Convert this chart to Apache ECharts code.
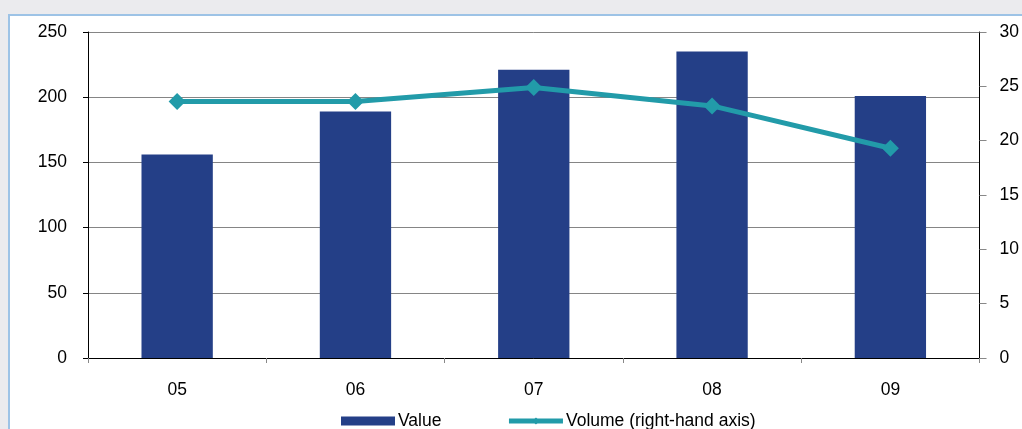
<!DOCTYPE html>
<html>
<head>
<meta charset="utf-8">
<script src="https://cdn.jsdelivr.net/npm/echarts@6/dist/echarts.min.js"></script>
<style>
  html, body { margin: 0; padding: 0; width: 1022px; height: 429px; background: #ebebee; overflow: hidden; }
  #panel { position: absolute; left: 8px; top: 14px; width: 1014px; height: 415px; background: #fff;
           border-left: 2px solid #9dc3e6; border-top: 2px solid #9dc3e6; box-sizing: border-box; }
  #chart { position: absolute; left: 0; top: 0; width: 1022px; height: 429px; }
</style>
</head>
<body>
<div id="panel"></div>
<div id="chart"></div>
<script>
// Yearly value (left axis) and volume (right axis)
const categories = ['05', '06', '07', '08', '09'];
const valueData = [156, 189, 221, 235, 201];
const volumeData = [23.6, 23.6, 24.9, 23.2, 19.3];
const leftTicks = { min: 0, max: 250, interval: 50 };
const rightTicks = { min: 0, max: 30, interval: 5 };

const font = 'Liberation Sans, Arial, sans-serif';
const fontSize = 17.5;
const teal = '#229ba9';
const chart = echarts.init(document.getElementById('chart'), null, { renderer: 'canvas' });

chart.setOption({
  backgroundColor: 'transparent',
  animation: false,
  grid: { left: 88, right: 41, top: 32, bottom: 71 },
  legend: {
    left: 341, top: 412, padding: 0,
    itemWidth: 54, itemHeight: 9, itemGap: 65,
    textStyle: { fontFamily: font, fontSize: fontSize, color: '#000', padding: [0, 0, 0, -2] },
    data: [
      { name: 'Value', icon: 'rect' },
      { name: 'Volume (right-hand axis)', lineStyle: { width: 5, color: teal } }
    ]
  },
  xAxis: {
    type: 'category',
    data: categories,
    boundaryGap: true,
    axisLine: { lineStyle: { color: '#000', width: 1 } },
    axisTick: { show: true, length: 5, lineStyle: { color: '#888' } },
    axisLabel: { margin: 23, fontFamily: font, fontSize: fontSize, color: '#000' }
  },
  yAxis: [
    {
      type: 'value', min: leftTicks.min, max: leftTicks.max, interval: leftTicks.interval,
      axisLine: { show: true, lineStyle: { color: '#000', width: 1 } },
      axisTick: { show: true, length: 5, lineStyle: { color: '#000' } },
      axisLabel: { margin: 21, fontFamily: font, fontSize: fontSize, color: '#000' },
      splitLine: { show: true, lineStyle: { color: '#858585', width: 1 } }
    },
    {
      type: 'value', min: rightTicks.min, max: rightTicks.max, interval: rightTicks.interval,
      position: 'right',
      axisLine: { show: true, lineStyle: { color: '#000', width: 1 } },
      axisTick: { show: true, length: 7, lineStyle: { color: '#888' } },
      axisLabel: { margin: 20, fontFamily: font, fontSize: fontSize, color: '#000' },
      splitLine: { show: false }
    }
  ],
  series: [
    {
      name: 'Value', type: 'bar', yAxisIndex: 0, data: valueData,
      barCategoryGap: '60%',
      itemStyle: { color: '#243f87' }
    },
    {
      name: 'Volume (right-hand axis)', type: 'line', yAxisIndex: 1, data: volumeData,
      symbol: 'diamond', symbolSize: 17,
      lineStyle: { color: teal, width: 5 },
      itemStyle: { color: teal }
    }
  ]
});
</script>
</body>
</html>
